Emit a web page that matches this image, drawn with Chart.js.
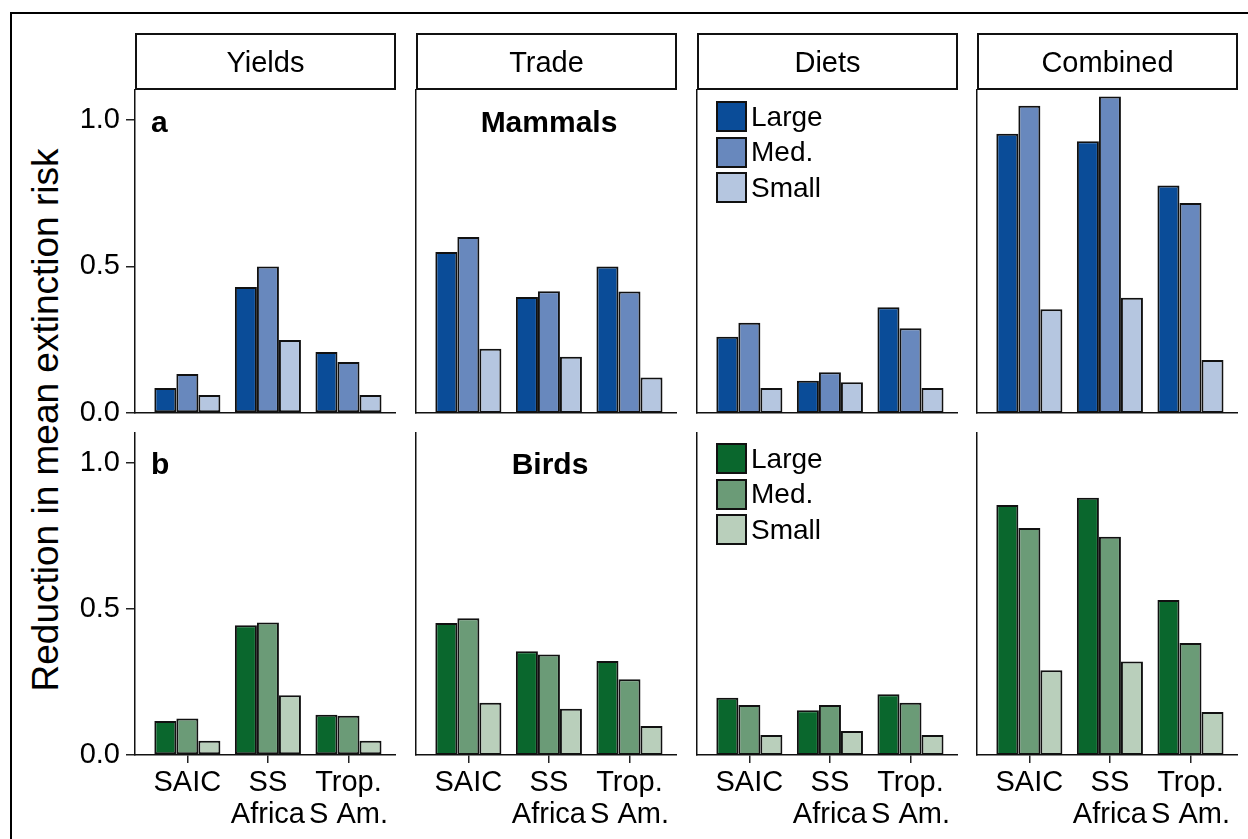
<!DOCTYPE html>
<html>
<head>
<meta charset="utf-8">
<script src="https://cdn.jsdelivr.net/npm/chart.js@4.4.1/dist/chart.umd.min.js"></script>
<style>
  body { margin: 0; width: 1248px; height: 839px; overflow: hidden; background: #fff; position: relative;
         font-family: "Liberation Sans", Arial, sans-serif; color: #000; }
  .frame { position: absolute; left: 10px; top: 12px; width: 1300px; height: 900px; border: 2px solid #000; }
  canvas { position: absolute; }
  .strip { position: absolute; top: 33px; height: 57px; box-sizing: border-box; border: 2px solid #111;
           text-align: center; font-size: 29px; line-height: 53px; padding-top: 1px; }
  .note { position: absolute; font-weight: bold; font-size: 30px; line-height: 30px; white-space: nowrap; }
  .ytitle { position: absolute; left: -254px; top: 400px; width: 600px; height: 40px; line-height: 40px;
            font-size: 37px; text-align: center; transform: rotate(-90deg); white-space: nowrap; }
  .legend { position: absolute; font-size: 28px; }
  .key { position: absolute; left: 0; height: 31px; display: flex; align-items: center; white-space: nowrap; }
  .sw { width: 31px; height: 31px; box-sizing: border-box; border: 2px solid #111; margin-right: 4px; }
</style>
</head>
<body>
<div class="frame"></div>
<div class="ytitle">Reduction in mean extinction risk</div>
<script>
// regions on the x axis, body-size classes, panel titles
const regions = ['SAIC', ['SS', 'Africa'], ['Trop.', 'S Am.']];
const sizes = ['Large', 'Med.', 'Small'];
const drivers = ['Yields', 'Trade', 'Diets', 'Combined'];
const yTicks = [0, 0.5, 1.0];

// rows: Large, Med., Small -- columns: SAIC, SS Africa, Trop. S Am.
const mammalsYields   = [[0.085, 0.43, 0.208], [0.133, 0.50, 0.174], [0.061, 0.249, 0.061]];
const mammalsTrade    = [[0.549, 0.396, 0.50], [0.60, 0.415, 0.414], [0.219, 0.192, 0.121]];
const mammalsDiets    = [[0.26, 0.11, 0.361], [0.308, 0.139, 0.289], [0.085, 0.105, 0.085]];
const mammalsCombined = [[0.952, 0.927, 0.776], [1.048, 1.079, 0.716], [0.354, 0.393, 0.181]];

const birdsYields   = [[0.116, 0.444, 0.138], [0.125, 0.453, 0.134], [0.049, 0.204, 0.049]];
const birdsTrade    = [[0.452, 0.355, 0.322], [0.468, 0.344, 0.259], [0.179, 0.158, 0.099]];
const birdsDiets    = [[0.196, 0.153, 0.208], [0.171, 0.171, 0.179], [0.068, 0.082, 0.068]];
const birdsCombined = [[0.855, 0.88, 0.53], [0.777, 0.747, 0.383], [0.29, 0.32, 0.147]];

const blues  = ['#0a4c98', '#6888bd', '#b5c6e0'];
const greens = ['#0a672d', '#6b9b77', '#b9cfbb'];

const colLeft = [135, 416, 697, 977];
const colWidth = 261;
const rowTop = [89, 432];
const rowBottom = [413, 755];
const fontFamily = '"Liberation Sans", Arial, sans-serif';

function panel(row, col, values, colors) {
  const yW = col === 0 ? 75 : 4;
  const xH = row === 0 ? 20 : 80;
  const canvas = document.createElement('canvas');
  canvas.width = colWidth + yW;
  canvas.height = rowBottom[row] - rowTop[row] + xH;
  canvas.style.left = (colLeft[col] - yW) + 'px';
  canvas.style.top = rowTop[row] + 'px';
  document.body.appendChild(canvas);

  new Chart(canvas, {
    type: 'bar',
    data: {
      datasets: sizes.map((s, k) => ({
        label: s,
        data: values[k].map((v, i) => ({ x: i, y: v })),
        backgroundColor: colors[k],
        borderColor: '#111',
        borderWidth: 2,
        borderSkipped: false,
        categoryPercentage: 0.82,
        barPercentage: 1
      }))
    },
    options: {
      responsive: false,
      animation: false,
      devicePixelRatio: 1,
      layout: { padding: 0 },
      plugins: { legend: { display: false }, tooltip: { enabled: false } },
      scales: {
        x: {
          type: 'linear',
          min: -0.65,
          max: 2.59,
          offset: false,
          afterBuildTicks: s => { s.ticks = regions.map((r, i) => ({ value: i })); },
          afterFit: s => { s.height = xH; s.paddingLeft = 0; s.paddingRight = 0; },
          grid: { display: row === 1, offset: false, drawOnChartArea: false, tickLength: 8,
                  color: '#222', lineWidth: 1.5 },
          border: { display: true, color: '#111', width: 1.5, z: 1 },
          ticks: { display: row === 1, callback: v => regions[v], color: '#000', padding: 4,
                   maxRotation: 0, autoSkip: false,
                   font: { family: fontFamily, size: 29, lineHeight: 1.1 } }
        },
        y: {
          min: 0,
          max: 1.105,
          afterBuildTicks: s => { s.ticks = yTicks.map(v => ({ value: v })); },
          afterFit: s => { s.width = yW; s.paddingTop = 0; s.paddingBottom = 0; },
          grid: { display: col === 0, drawOnChartArea: false, tickLength: 9, color: '#222', lineWidth: 1.5 },
          border: { display: true, color: '#111', width: 1.5, z: 1 },
          ticks: { display: col === 0, callback: v => v.toFixed(1), color: '#000', padding: 6,
                   font: { family: fontFamily, size: 29 } }
        }
      }
    }
  });
}

const mammals = [mammalsYields, mammalsTrade, mammalsDiets, mammalsCombined];
const birds = [birdsYields, birdsTrade, birdsDiets, birdsCombined];
mammals.forEach((v, c) => panel(0, c, v, blues));
birds.forEach((v, c) => panel(1, c, v, greens));

// strip labels
drivers.forEach((d, c) => {
  const div = document.createElement('div');
  div.className = 'strip';
  div.style.left = colLeft[c] + 'px';
  div.style.width = colWidth + 'px';
  div.textContent = d;
  document.body.appendChild(div);
});

// panel notes
function note(text, x, y, center) {
  const div = document.createElement('div');
  div.className = 'note';
  div.textContent = text;
  if (center) {
    div.style.left = (x - 100) + 'px';
    div.style.width = '200px';
    div.style.textAlign = 'center';
  } else {
    div.style.left = x + 'px';
  }
  div.style.top = y + 'px';
  document.body.appendChild(div);
}
note('a', 151, 107, false);
note('b', 151, 449, false);
note('Mammals', 549, 107, true);
note('Birds', 550, 449, true);

// legends in the Diets panels
function legend(top, colors) {
  const box = document.createElement('div');
  box.className = 'legend';
  box.style.left = '716px';
  box.style.top = top + 'px';
  sizes.forEach((s, k) => {
    const key = document.createElement('div');
    key.className = 'key';
    key.style.top = (k * 35.5) + 'px';
    const sw = document.createElement('span');
    sw.className = 'sw';
    sw.style.background = colors[k];
    key.appendChild(sw);
    key.appendChild(document.createTextNode(s));
    box.appendChild(key);
  });
  document.body.appendChild(box);
}
legend(101, blues);
legend(443, greens);
</script>
</body>
</html>
